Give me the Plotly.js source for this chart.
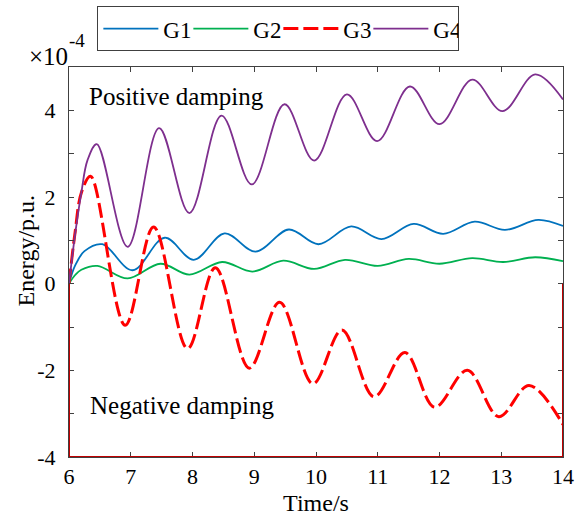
<!DOCTYPE html>
<html>
<head>
<meta charset="utf-8">
<script src="https://cdn.plot.ly/plotly-3.0.1.min.js"></script>
<style>html,body{margin:0;padding:0;background:#fff;}#chart{width:587px;height:516px;}</style>
</head>
<body>
<div id="chart"></div>
<script>
// ---- data (values in units of 1e-4 p.u.) ----
var seriesNames = ["G1", "G2", "G3", "G4"];

var g1Time = [6, 6.1, 6.25, 6.54, 7.03, 7.55, 8.02, 8.52, 9.02, 9.56, 10.04, 10.57, 11.06, 11.58, 12.06, 12.57, 13.06, 13.6, 14];
var g1Val  = [0, 0.42, 0.75, 0.91, 0.31, 1.06, 0.55, 1.16, 0.74, 1.25, 0.91, 1.32, 1.03, 1.38, 1.15, 1.43, 1.24, 1.47, 1.33];

var g2Time = [6, 6.1, 6.2, 6.46, 6.95, 7.48, 7.95, 8.48, 8.97, 9.47, 9.97, 10.47, 11.0, 11.5, 12.0, 12.53, 13.03, 13.55, 14];
var g2Val  = [0, 0.2, 0.32, 0.41, 0.12, 0.46, 0.21, 0.50, 0.28, 0.53, 0.34, 0.55, 0.41, 0.57, 0.46, 0.59, 0.50, 0.61, 0.52];

var g3Time = [6, 6.1, 6.2, 6.35, 6.91, 7.37, 7.92, 8.37, 8.92, 9.41, 9.95, 10.42, 10.94, 11.44, 11.92, 12.45, 12.96, 13.45, 14];
var g3Val  = [0, 1.2, 2.1, 2.48, -0.96, 1.31, -1.50, 0.37, -1.95, -0.43, -2.31, -1.07, -2.61, -1.59, -2.85, -2.0, -3.07, -2.35, -3.25];

var g4Time = [6, 6.1, 6.2, 6.3, 6.45, 6.95, 7.46, 7.95, 8.47, 8.96, 9.49, 9.97, 10.5, 10.99, 11.52, 12.0, 12.53, 13.02, 13.55, 14];
var g4Val  = [0, 1.15, 2.1, 2.85, 3.22, 0.85, 3.59, 1.63, 3.88, 2.29, 4.14, 2.84, 4.37, 3.29, 4.55, 3.68, 4.71, 3.98, 4.83, 4.25];

var xTickVals = [6, 7, 8, 9, 10, 11, 12, 13, 14];
var yTickVals = [-4, -3, -2, -1, 0, 1, 2, 3, 4, 5];
var yTickText = ["-4", "", "-2", "", "0", "", "2", "", "4", ""];
// ---------------------------------------------------------------------

var FONT = "Liberation Serif, Times New Roman, serif";

function tr(name, x, y, color, width, dash) {
  return {
    type: "scatter", mode: "lines", name: name, x: x, y: y,
    line: {color: color, width: width, dash: dash, shape: "spline", smoothing: 1.0}
  };
}

var traces = [
  tr(seriesNames[0], g1Time, g1Val, "#0072BD", 1.8, "solid"),
  tr(seriesNames[1], g2Time, g2Val, "#00B050", 1.8, "solid"),
  tr(seriesNames[2], g3Time, g3Val, "#FF0000", 3, "15px,5px"),
  tr(seriesNames[3], g4Time, g4Val, "#7E2F8E", 1.8, "solid")
];

var axisCommon = {
  showgrid: false, zeroline: false, showline: true, linecolor: "#404040", linewidth: 1,
  mirror: "ticks", ticks: "inside", ticklen: 5, tickwidth: 1, tickcolor: "#404040",
  tickfont: {family: FONT, size: 22, color: "#000"}, automargin: false
};

var layout = {
  width: 587, height: 516,
  margin: {l: 69, r: 24, t: 67, b: 59, pad: 0, autoexpand: false},
  paper_bgcolor: "#fff", plot_bgcolor: "#fff",
  font: {family: FONT, color: "#000"},
  xaxis: Object.assign({}, axisCommon, {
    range: [6, 14], tickmode: "array", tickvals: xTickVals,
    title: {text: "Time/s", font: {family: FONT, size: 24, color: "#000"}, standoff: 6}
  }),
  yaxis: Object.assign({}, axisCommon, {
    range: [-4, 5], tickmode: "array", tickvals: yTickVals, ticktext: yTickText,
    ticklabelstandoff: 8
  }),
  showlegend: true,
  legend: {
    orientation: "h", x: 0.0574, y: 1.156, xanchor: "left", yanchor: "top",
    bgcolor: "#fff", bordercolor: "#404040", borderwidth: 1,
    font: {family: FONT, size: 23, color: "#000"},
    itemwidth: 55, entrywidth: 20, entrywidthmode: "pixels"
  },
  shapes: [{
    type: "path", xref: "x", yref: "y", layer: "above",
    path: "M 6,0 L 6,-4 L 14,-4 L 14,0",
    line: {color: "#C00000", width: 2}
  }],
  annotations: [
    {text: "Energy/p.u.", xref: "paper", yref: "paper", x: -0.0861, y: 0.5308, textangle: -90,
     xanchor: "center", yanchor: "middle", showarrow: false, font: {family: FONT, size: 24, color: "#000"}},
    {text: "Positive damping", xref: "paper", yref: "paper", x: 0.037, y: 0.9256,
     xanchor: "left", yanchor: "middle", showarrow: false, font: {family: FONT, size: 25, color: "#000"}},
    {text: "Negative damping", xref: "paper", yref: "paper", x: 0.039, y: 0.1333,
     xanchor: "left", yanchor: "middle", showarrow: false, font: {family: FONT, size: 25, color: "#000"}},
    {text: "×10", xref: "paper", yref: "paper", x: -0.0841, y: 1.028,
     xanchor: "left", yanchor: "middle", showarrow: false, font: {family: FONT, size: 25, color: "#000"}},
    {text: "-4", xref: "paper", yref: "paper", x: -0.004, y: 1.069,
     xanchor: "left", yanchor: "middle", showarrow: false, font: {family: FONT, size: 19, color: "#000"}}
  ]
};

Plotly.newPlot("chart", traces, layout, {staticPlot: true, displayModeBar: false});
</script>
</body>
</html>
